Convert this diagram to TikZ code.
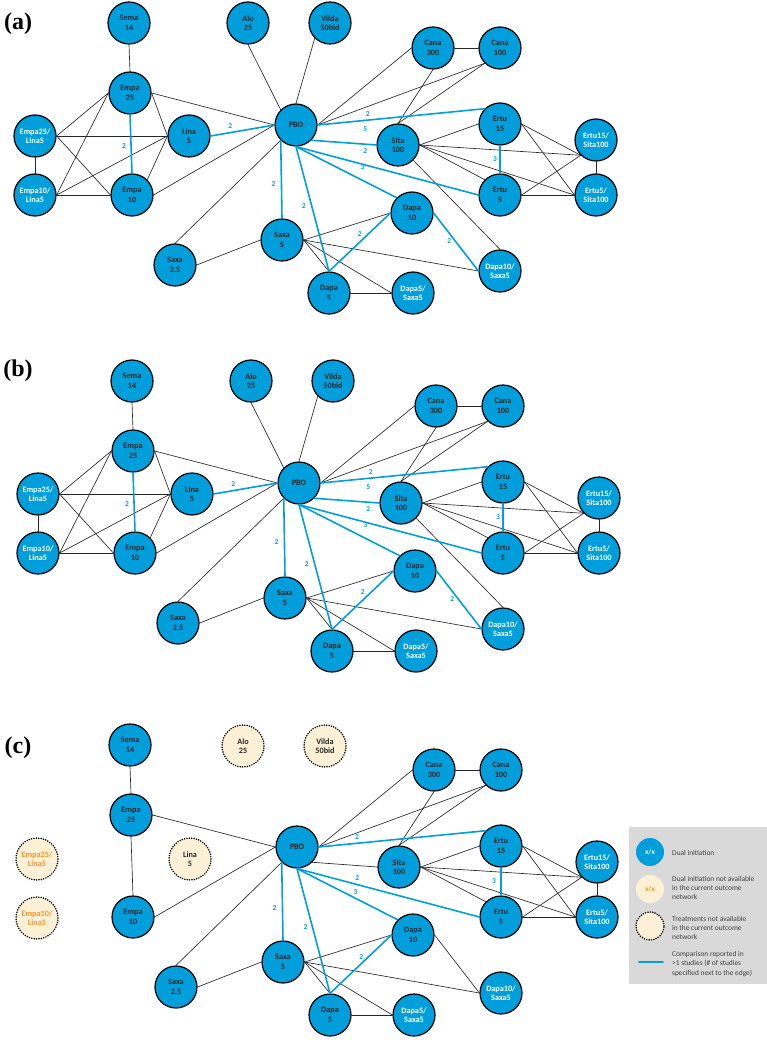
\documentclass[tikz,border=0pt]{standalone}
\usepackage{fontspec}
\setmainfont{Carlito}
\newfontfamily\panelfont{Liberation Serif}
\usepackage{tikz}
\definecolor{dblue}{RGB}{0,158,219}
\definecolor{cream}{RGB}{252,241,214}
\definecolor{naorange}{RGB}{245,150,40}
\definecolor{keygray}{RGB}{217,217,217}

\begin{document}
\begin{tikzpicture}
    [line cap=round,line join=round,x=1pt,y=-1pt,
     trt/.style={circle,draw=black,line width=1.2pt,fill=dblue,minimum size=42pt,inner sep=0pt,
       align=center,font=\bfseries\fontsize{8.2}{9.5}\selectfont,text=black!85},
     combo/.style={trt,text=white},
     miss/.style={trt,fill=cream,line width=1.7pt,dash pattern=on 0pt off 2.4pt},
     lnk/.style={black!85,line width=0.65pt},
     multi/.style={dblue,line width=1.6pt},
     lbl/.style={text=dblue,font=\bfseries\fontsize{7.5}{8}\selectfont,inner sep=0pt},
     panel/.style={font=\panelfont\bfseries\fontsize{24}{24}\selectfont,inner sep=0pt},
     keytext/.style={anchor=west,align=left,inner sep=0pt,text=black!75,font=\fontsize{7.4}{9.3}\selectfont}]
\useasboundingbox (0,0) rectangle (767,1040);

%panel labels
\node[panel] (lbla) at (18,24) {(a)};
\node[panel] (lblb) at (18,371) {(b)};
\node[panel] (lblc) at (18,748) {(c)};

%panels (a) and (b): the full network
\foreach \p/\sx/\sy in {a/0/0,b/3/358}{
\begin{scope}[shift={(\sx,\sy)}]
  \node[trt] (\p-sema) at (129,23) {Sema\\14};
  \node[trt] (\p-alo) at (248,23) {Alo\\25};
  \node[trt] (\p-vilda) at (330,23) {Vilda\\50bid};
  \node[trt] (\p-empa25) at (130,93) {Empa\\25};
  \node[trt] (\p-lina) at (189,136) {Lina\\5};
  \node[combo] (\p-el25) at (35,136) {Empa25/\\Lina5};
  \node[combo] (\p-el10) at (35,195) {Empa10/\\Lina5};
  \node[trt] (\p-empa10) at (132,195) {Empa\\10};
  \node[trt] (\p-pbo) at (296,125) {PBO};
  \node[trt] (\p-saxa5) at (282,240) {Saxa\\5};
  \node[trt] (\p-saxa25) at (175,265) {Saxa\\2.5};
  \node[trt] (\p-dapa5) at (329,293) {Dapa\\5};
  \node[trt] (\p-cana300) at (433,48) {Cana\\300};
  \node[trt] (\p-cana100) at (500,48) {Cana\\100};
  \node[trt] (\p-ertu15) at (500,124) {Ertu\\15};
  \node[trt] (\p-sita) at (398,145) {Sita\\100};
  \node[combo] (\p-es15) at (596,140) {Ertu15/\\Sita100};
  \node[combo] (\p-es5) at (596,195) {Ertu5/\\Sita100};
  \node[trt] (\p-ertu5) at (500,195) {Ertu\\5};
  \node[trt] (\p-dapa10) at (412,213) {Dapa\\10};
  \node[combo] (\p-ds10) at (500,271) {Dapa10/\\Saxa5};
  \node[combo] (\p-ds5) at (413,293) {Dapa5/\\Saxa5};

  %single comparisons
  \draw[lnk] (\p-sema.south) -- (\p-empa25.north);
  \draw[lnk] (\p-alo.south) -- (\p-pbo.north west);
  \draw[lnk] (\p-vilda.south west) -- (\p-pbo.north);
  \draw[lnk] (\p-empa25.east) -- (\p-pbo.west);
  \draw[lnk] (\p-empa25.east) -- (\p-lina.west);
  \draw[lnk] (\p-el25.east) -- (\p-empa25.west);
  \draw[lnk] (\p-el25.east) -- (\p-lina.west);
  \draw[lnk] (\p-el25.east) -- (\p-empa10.west);
  \draw[lnk] (\p-el25.south) -- (\p-el10.north);
  \draw[lnk] (\p-el10.east) -- (\p-empa25.west);
  \draw[lnk] (\p-el10.east) -- (\p-lina.west);
  \draw[lnk] (\p-el10.east) -- (\p-empa10.west);
  \draw[lnk] (\p-empa10.north east) -- (\p-lina.west);
  \draw[lnk] (\p-empa10.east) -- (\p-pbo.west);
  \draw[lnk] (\p-pbo.south west) -- (\p-saxa25.north);
  \draw[lnk] (\p-pbo.east) -- (\p-cana300.west);
  \draw[lnk] (\p-pbo.east) -- (\p-cana100.south west);
  \draw[lnk] (\p-cana300.east) -- (\p-cana100.west);
  \draw[lnk] (\p-cana300.south) -- (\p-sita.north);
  \draw[lnk] (\p-cana100.south west) -- (\p-sita.north);
  \draw[lnk] (\p-sita.east) -- (\p-ertu15.west);
  \draw[lnk] (\p-sita.east) -- (\p-es15.south west);
  \draw[lnk] (\p-sita.east) -- (\p-es5.west);
  \draw[lnk] (\p-sita.east) -- (\p-ertu5.north west);
  \draw[lnk] (\p-sita.south east) -- (\p-ds10.north);
  \draw[lnk] (\p-ertu15.east) -- (\p-es15.south west);
  \draw[lnk] (\p-ertu15.east) -- (\p-es5.west);
  \draw[lnk] (\p-ertu5.east) -- (\p-es15.south west);
  \draw[lnk] (\p-ertu5.east) -- (\p-es5.west);
  \draw[lnk] (\p-es15.south) -- (\p-es5.north);
  \draw[lnk] (\p-saxa25.east) -- (\p-saxa5.west);
  \draw[lnk] (\p-saxa5.east) -- (\p-dapa10.west);
  \draw[lnk] (\p-saxa5.east) -- (\p-ds10.west);
  \draw[lnk] (\p-saxa5.east) -- (\p-dapa5.north);
  \draw[lnk] (\p-saxa5.east) -- (\p-ds5.west);
  \draw[lnk] (\p-dapa5.east) -- (\p-ds5.west);

  %comparisons with more than one study
  \draw[multi] (\p-empa25.south) -- node[lbl,pos=.53,xshift=-7pt] {2} (\p-empa10.north);
  \draw[multi] (\p-lina.east) -- node[lbl,pos=.31,yshift=7pt] {2} (\p-pbo.west);
  \draw[multi] (\p-pbo.east) -- node[lbl,pos=.3,yshift=6pt] {2} (\p-ertu15.north west);
  \draw[multi] (\p-pbo.south east) -- node[lbl,pos=.83,yshift=15pt] {5} (\p-sita.west);
  \draw[multi] (\p-pbo.south) -- node[lbl,pos=.38,yshift=13.5pt] {2} (\p-ertu5.west);
  \draw[multi] (\p-pbo.south) -- node[lbl,pos=.66,yshift=13.5pt] {3} (\p-dapa10.north west);
  \draw[multi] (\p-pbo.south west) -- node[lbl,pos=.56,xshift=-8pt] {2} (\p-saxa5.north);
  \draw[multi] (\p-pbo.south) -- node[lbl,pos=.48,xshift=-8pt] {2} (\p-dapa5.north);
  \draw[multi] (\p-dapa5.north) -- node[lbl,pos=.5,yshift=8.5pt] {2} (\p-dapa10.west);
  \draw[multi] (\p-dapa10.east) -- node[lbl,pos=.35,yshift=-7.5pt] {2} (\p-ds10.west);
  \draw[multi] (\p-ertu15.south) -- node[lbl,pos=.48,xshift=-5pt] {3} (\p-ertu5.north);
\end{scope}
}

%panel (c): current outcome network
\begin{scope}[shift={(1,722)}]
  \node[trt] (c-sema) at (129,23) {Sema\\14};
  \node[miss] (c-alo) at (242,24) {Alo\\25};
  \node[miss] (c-vilda) at (324,24) {Vilda\\50bid};
  \node[trt] (c-empa25) at (130,93) {Empa\\25};
  \node[miss] (c-lina) at (189,137) {Lina\\5};
  \node[miss,text=naorange] (c-el25) at (36,137) {Empa25/\\Lina5};
  \node[miss,text=naorange] (c-el10) at (36,196) {Empa10/\\Lina5};
  \node[trt] (c-empa10) at (132,195) {Empa\\10};
  \node[trt] (c-pbo) at (296,125) {PBO};
  \node[trt] (c-saxa5) at (282,240) {Saxa\\5};
  \node[trt] (c-saxa25) at (175,265) {Saxa\\2.5};
  \node[trt] (c-dapa5) at (329,293) {Dapa\\5};
  \node[trt] (c-cana300) at (433,48) {Cana\\300};
  \node[trt] (c-cana100) at (500,48) {Cana\\100};
  \node[trt] (c-ertu15) at (500,124) {Ertu\\15};
  \node[trt] (c-sita) at (398,145) {Sita\\100};
  \node[combo] (c-es15) at (596,140) {Ertu15/\\Sita100};
  \node[combo] (c-es5) at (596,195) {Ertu5/\\Sita100};
  \node[trt] (c-ertu5) at (500,195) {Ertu\\5};
  \node[trt] (c-dapa10) at (412,213) {Dapa\\10};
  \node[combo] (c-ds10) at (500,271) {Dapa10/\\Saxa5};
  \node[combo] (c-ds5) at (413,293) {Dapa5/\\Saxa5};

  \draw[lnk] (c-sema.south) -- (c-empa25.north);
  \draw[lnk] (c-empa25.south) -- (c-empa10.north);
  \draw[lnk] (c-empa25.east) -- (c-pbo.west);
  \draw[lnk] (c-empa10.east) -- (c-pbo.west);
  \draw[lnk] (c-pbo.south west) -- (c-saxa25.north);
  \draw[lnk] (c-pbo.east) -- (c-cana300.west);
  \draw[lnk] (c-pbo.east) -- (c-cana100.south west);
  \draw[lnk] (c-pbo.south east) -- (c-sita.west);
  \draw[lnk] (c-cana300.east) -- (c-cana100.west);
  \draw[lnk] (c-cana300.south) -- (c-sita.north);
  \draw[lnk] (c-cana100.south west) -- (c-sita.north);
  \draw[lnk] (c-sita.east) -- (c-ertu15.west);
  \draw[lnk] (c-sita.east) -- (c-es15.south west);
  \draw[lnk] (c-sita.east) -- (c-es5.west);
  \draw[lnk] (c-sita.east) -- (c-ertu5.north west);
  \draw[lnk] (c-ertu15.east) -- (c-es15.south west);
  \draw[lnk] (c-ertu15.east) -- (c-es5.west);
  \draw[lnk] (c-ertu5.east) -- (c-es15.south west);
  \draw[lnk] (c-ertu5.east) -- (c-es5.west);
  \draw[lnk] (c-es15.south) -- (c-es5.north);
  \draw[lnk] (c-saxa25.east) -- (c-saxa5.west);
  \draw[lnk] (c-saxa5.east) -- (c-dapa10.west);
  \draw[lnk] (c-saxa5.east) -- (c-ds10.west);
  \draw[lnk] (c-saxa5.east) -- (c-dapa5.north);
  \draw[lnk] (c-saxa5.east) -- (c-ds5.west);
  \draw[lnk] (c-dapa5.east) -- (c-ds5.west);
  \draw[lnk] (c-dapa10.east) -- (c-ds10.west);

  \draw[multi] (c-pbo.east) -- node[lbl,pos=.23,yshift=6pt] {2} (c-ertu15.north west);
  \draw[multi] (c-pbo.south) -- node[lbl,pos=.33,yshift=6.5pt] {2} (c-ertu5.west);
  \draw[multi] (c-pbo.south) -- node[lbl,pos=.58,yshift=6pt] {3} (c-dapa10.north west);
  \draw[multi] (c-pbo.south west) -- node[lbl,pos=.58,xshift=-8pt] {2} (c-saxa5.north);
  \draw[multi] (c-pbo.south) -- node[lbl,pos=.47,xshift=-7pt] {2} (c-dapa5.north);
  \draw[multi] (c-dapa5.north) -- node[lbl,pos=.51,yshift=7pt] {2} (c-dapa10.west);
  \draw[multi] (c-ertu15.south) -- node[lbl,pos=.5,xshift=-7pt] {3} (c-ertu5.north);
\end{scope}

%legend
\fill[keygray] (629,827) rectangle (767,984);
\node[circle,fill=dblue,minimum size=28pt,inner sep=0pt,text=white,font=\bfseries\fontsize{7.4}{8}\selectfont] (key-dual) at (650,852) {x/x};
\node[circle,fill=cream,minimum size=28pt,inner sep=0pt,text=naorange,font=\bfseries\fontsize{7.4}{8}\selectfont] (key-na) at (650,889) {x/x};
\node[circle,fill=cream,draw=black,line width=1.7pt,dash pattern=on 0pt off 2.4pt,minimum size=28pt,inner sep=0pt] (key-miss) at (650,926) {};
\coordinate (key-a) at (639,962);
\coordinate (key-b) at (663,962);
\draw[multi] (key-a) -- (key-b);
\node[keytext] (key-t1) at (672,853) {Dual initiation};
\node[keytext] (key-t2) at (672,888) {Dual initiation not available\\in the current outcome\\network};
\node[keytext] (key-t3) at (672,928) {Treatments not available\\in the current outcome\\network};
\node[keytext] (key-t4) at (672,964) {Comparison reported in\\>1 studies (\# of studies\\specified next to the edge)};
\end{tikzpicture}
\end{document}
